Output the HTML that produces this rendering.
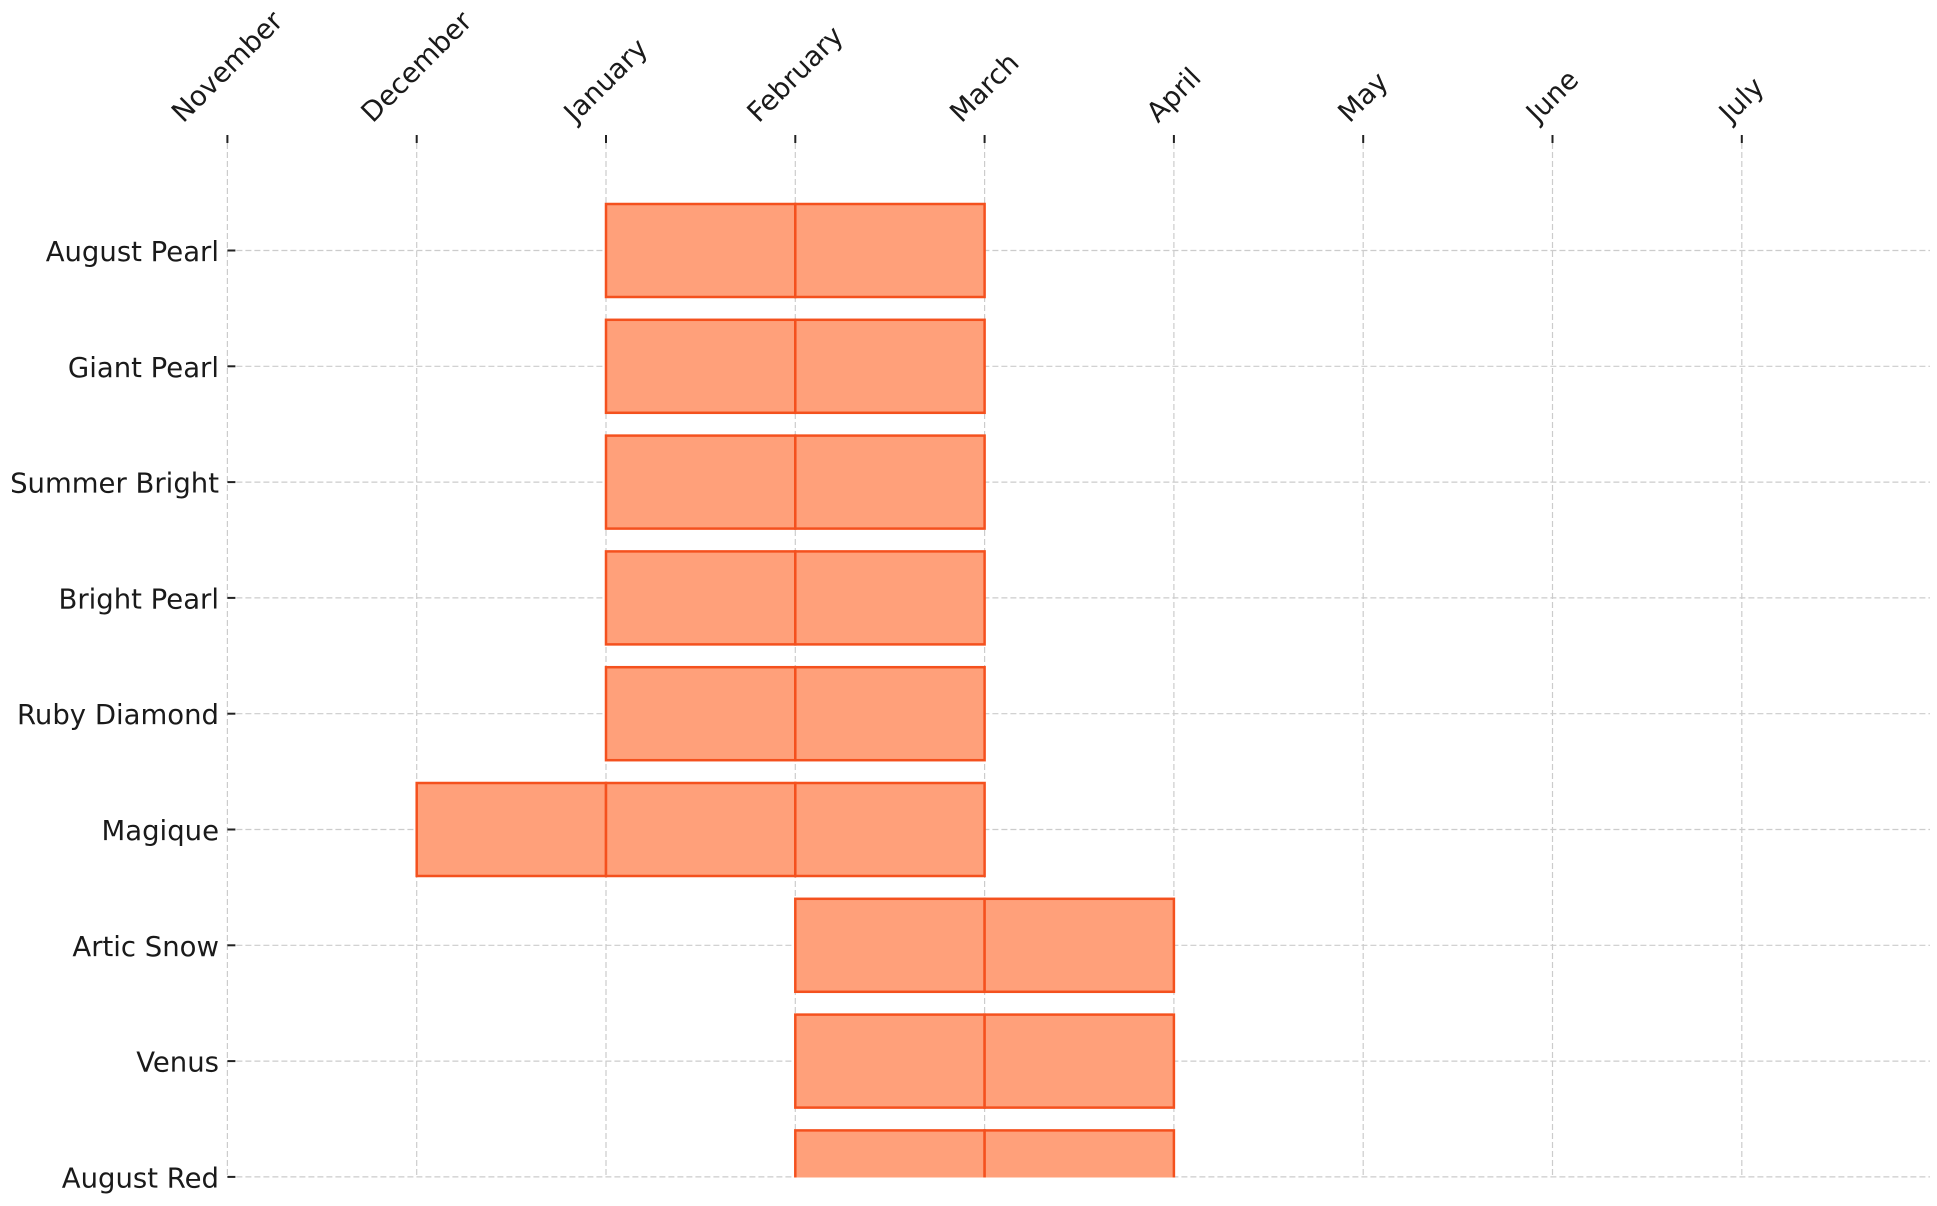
<!DOCTYPE html>
<html><head><meta charset="utf-8"><style>
html,body{margin:0;padding:0;background:#fff;}
svg{display:block;font-family:"DejaVu Sans","Liberation Sans",sans-serif;}
</style></head><body>
<svg id="s" width="1937" height="1206" viewBox="0 0 1937 1206" xmlns="http://www.w3.org/2000/svg">
<g id="grid" stroke="#cccccc" stroke-width="1.2" stroke-dasharray="6,3" fill="none"></g>
<g id="bars"></g>
<g id="ticks" stroke="#222" stroke-width="2"></g>
<g id="labels" fill="#1a1a1a" font-size="27.5"></g>
</svg>
<script>
var NS="http://www.w3.org/2000/svg";
var months=["November","December","January","February","March","April","May","June","July"];
var names=["August Pearl","Giant Pearl","Summer Bright","Bright Pearl","Ruby Diamond","Magique","Artic Snow","Venus","August Red"];
var spans=[[2,4],[2,4],[2,4],[2,4],[2,4],[1,4],[3,5],[3,5],[3,5]];
var x0=227.4,dx=189.3,y0=250.5,dy=115.8,hh=46.5,bottom=1177.5,right=1930;
function X(i){return x0+i*dx;}function Y(j){return y0+j*dy;}
function el(t,a,p){var e=document.createElementNS(NS,t);for(var k in a)e.setAttribute(k,a[k]);p.appendChild(e);return e;}
var g=document.getElementById("grid"),b=document.getElementById("bars"),tk=document.getElementById("ticks"),lb=document.getElementById("labels");
for(var i=0;i<9;i++){el("line",{x1:X(i),x2:X(i),y1:143,y2:bottom},g);el("line",{x1:X(i),x2:X(i),y1:135,y2:143},tk);}
for(var j=0;j<9;j++){el("line",{x1:X(0),x2:right,y1:Y(j),y2:Y(j)},g);el("line",{x1:X(0),x2:X(0)+8,y1:Y(j),y2:Y(j)},tk);}
var cp=el("clipPath",{id:"c"},document.getElementById("s"));el("rect",{x:0,y:0,width:1937,height:bottom},cp);
b.setAttribute("clip-path","url(#c)");
for(var j=0;j<9;j++){for(var m=spans[j][0];m<spans[j][1];m++){
 el("rect",{x:X(m),y:Y(j)-hh,width:dx,height:2*hh,fill:"#ffa07a",stroke:"#f4511e","stroke-width":2.5},b);}}
for(var j=0;j<9;j++){var t=el("text",{x:219,y:Y(j)+1.5,"text-anchor":"end","dominant-baseline":"central"},lb);t.textContent=names[j];}
for(var i=0;i<9;i++){var t=el("text",{x:0,y:0,"text-anchor":"middle","dominant-baseline":"central"},lb);t.textContent=months[i];
 var L=t.getComputedTextLength(),h=30;var cy=128-(L+h)/2*0.7071;
 t.setAttribute("transform","translate("+X(i)+","+cy+") rotate(-45)");}
</script>
</body></html>
